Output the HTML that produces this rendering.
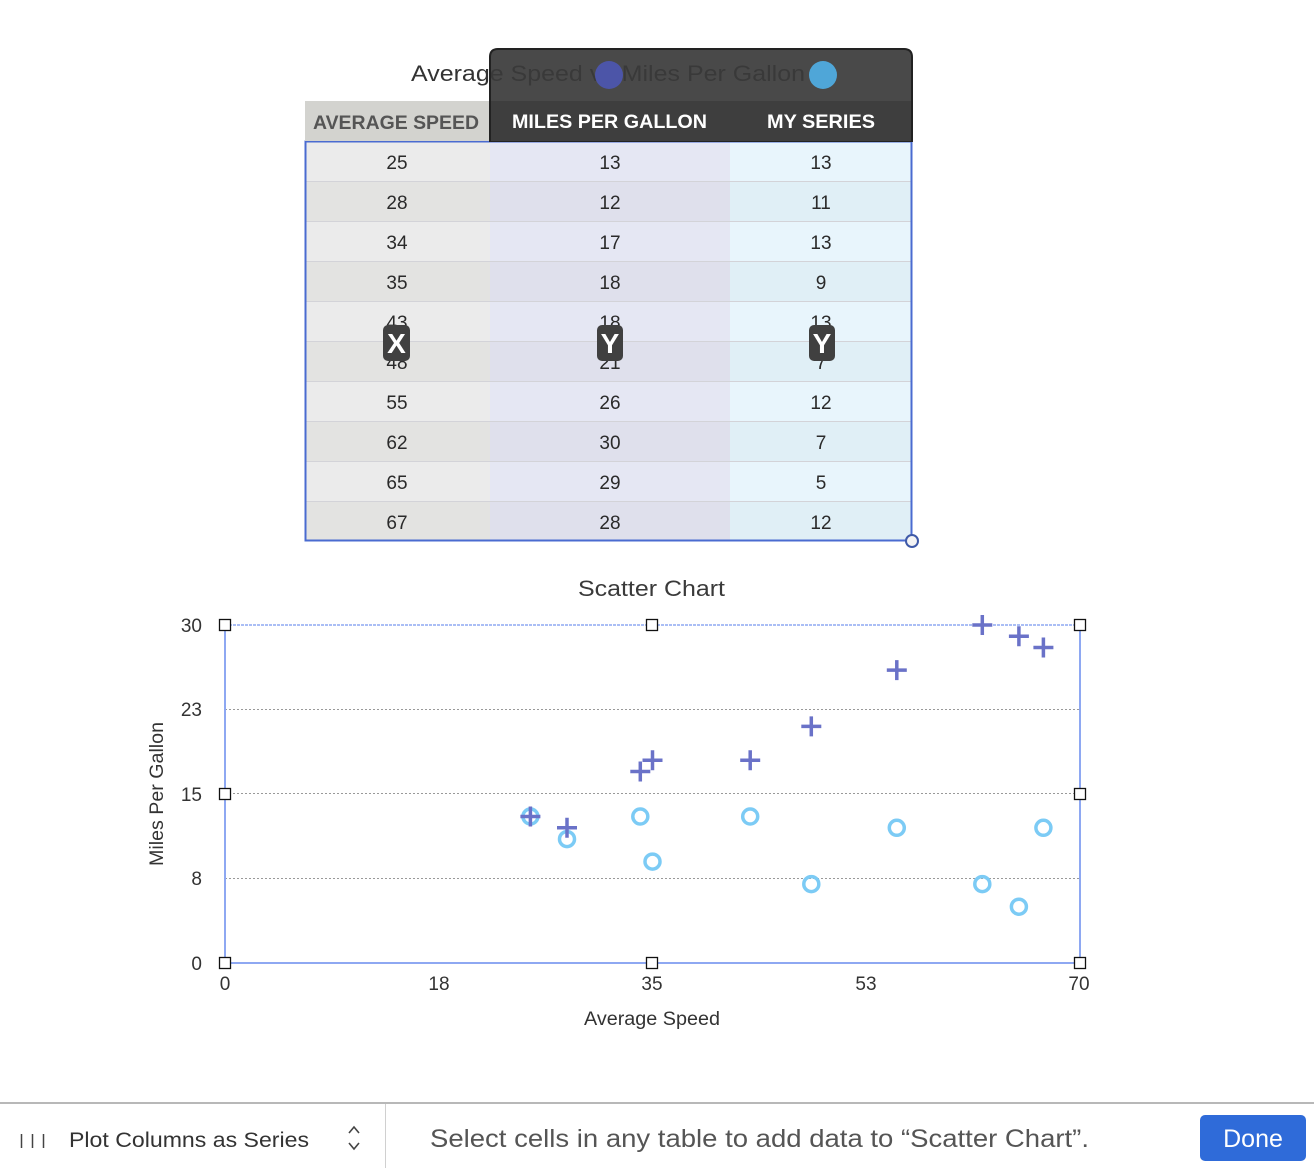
<!DOCTYPE html>
<html><head><meta charset="utf-8"><style>
html,body{margin:0;padding:0;background:#fff;width:1314px;height:1168px;overflow:hidden}
svg{display:block}
text{font-family:"Liberation Sans",sans-serif}
</style></head><body>
<svg width="1314" height="1168" viewBox="0 0 1314 1168">
<g>
<rect x="305" y="141" width="185" height="400" fill="#ebebeb"/>
<rect x="490" y="141" width="240" height="400" fill="#e5e7f3"/>
<rect x="730" y="141" width="182" height="400" fill="#e8f5fc"/>
<rect x="305" y="181" width="185" height="40" fill="#e3e3e1"/><rect x="490" y="181" width="240" height="40" fill="#dfe0ec"/><rect x="730" y="181" width="182" height="40" fill="#e0eff6"/>
<rect x="305" y="261" width="185" height="40" fill="#e3e3e1"/><rect x="490" y="261" width="240" height="40" fill="#dfe0ec"/><rect x="730" y="261" width="182" height="40" fill="#e0eff6"/>
<rect x="305" y="341" width="185" height="40" fill="#e3e3e1"/><rect x="490" y="341" width="240" height="40" fill="#dfe0ec"/><rect x="730" y="341" width="182" height="40" fill="#e0eff6"/>
<rect x="305" y="421" width="185" height="40" fill="#e3e3e1"/><rect x="490" y="421" width="240" height="40" fill="#dfe0ec"/><rect x="730" y="421" width="182" height="40" fill="#e0eff6"/>
<rect x="305" y="501" width="185" height="40" fill="#e3e3e1"/><rect x="490" y="501" width="240" height="40" fill="#dfe0ec"/><rect x="730" y="501" width="182" height="40" fill="#e0eff6"/>
<g stroke="#d3d3d8" stroke-width="1">
<line x1="305" x2="912" y1="181.5" y2="181.5"/><line x1="305" x2="912" y1="221.5" y2="221.5"/><line x1="305" x2="912" y1="261.5" y2="261.5"/><line x1="305" x2="912" y1="301.5" y2="301.5"/><line x1="305" x2="912" y1="341.5" y2="341.5"/><line x1="305" x2="912" y1="381.5" y2="381.5"/><line x1="305" x2="912" y1="421.5" y2="421.5"/><line x1="305" x2="912" y1="461.5" y2="461.5"/><line x1="305" x2="912" y1="501.5" y2="501.5"/>
</g>
<g font-size="19" fill="#2a2a2a" text-anchor="middle">
<text x="397" y="169">25</text><text x="610" y="169">13</text><text x="821" y="169">13</text>
<text x="397" y="209">28</text><text x="610" y="209">12</text><text x="821" y="209">11</text>
<text x="397" y="249">34</text><text x="610" y="249">17</text><text x="821" y="249">13</text>
<text x="397" y="289">35</text><text x="610" y="289">18</text><text x="821" y="289">9</text>
<text x="397" y="329">43</text><text x="610" y="329">18</text><text x="821" y="329">13</text>
<text x="397" y="369">48</text><text x="610" y="369">21</text><text x="821" y="369">7</text>
<text x="397" y="409">55</text><text x="610" y="409">26</text><text x="821" y="409">12</text>
<text x="397" y="449">62</text><text x="610" y="449">30</text><text x="821" y="449">7</text>
<text x="397" y="489">65</text><text x="610" y="489">29</text><text x="821" y="489">5</text>
<text x="397" y="529">67</text><text x="610" y="529">28</text><text x="821" y="529">12</text>
</g>
<rect x="305.5" y="141.5" width="606" height="399" fill="none" stroke="#4a6bd0" stroke-width="2"/>
</g>
<rect x="305" y="101" width="185" height="40" fill="#d3d3cf"/>
<text x="313" y="129" font-size="19" font-weight="bold" fill="#555" textLength="166" lengthAdjust="spacingAndGlyphs">AVERAGE SPEED</text>
<text x="411" y="81" font-size="22" fill="#333" textLength="394" lengthAdjust="spacingAndGlyphs">Average Speed vs Miles Per Gallon</text>
<path d="M490,141 V57 Q490,49 498,49 H904 Q912,49 912,57 V141 Z" fill="#3a3a3a" fill-opacity="0.92" stroke="#222" stroke-width="2"/>
<rect x="491" y="101" width="420" height="40" fill="#3e3e3e"/>
<circle cx="609" cy="75" r="14" fill="#4c55a8"/>
<circle cx="823" cy="75" r="14" fill="#4fa6d8"/>
<text x="512" y="128" font-size="19" font-weight="bold" fill="#fff" textLength="195" lengthAdjust="spacingAndGlyphs">MILES PER GALLON</text>
<text x="767" y="128" font-size="19" font-weight="bold" fill="#fff" textLength="108" lengthAdjust="spacingAndGlyphs">MY SERIES</text>
<rect x="383" y="325" width="27" height="36" rx="5" fill="#404040"/>
<rect x="597" y="325" width="26" height="36" rx="5" fill="#404040"/>
<rect x="809" y="325" width="26" height="36" rx="5" fill="#404040"/>
<g font-size="28" font-weight="bold" fill="#fff" text-anchor="middle">
<text x="396.5" y="353">X</text><text x="610" y="353">Y</text><text x="822" y="353">Y</text>
</g>
<circle cx="912" cy="541" r="6" fill="#f4f4f4" stroke="#3f5aa8" stroke-width="2"/>

<text x="578" y="596" font-size="22" fill="#3a3a3a" textLength="147" lengthAdjust="spacingAndGlyphs">Scatter Chart</text>
<g stroke="#999" stroke-width="1" stroke-dasharray="2,2">
<line x1="225" x2="1080" y1="709.5" y2="709.5"/><line x1="225" x2="1080" y1="793.5" y2="793.5"/><line x1="225" x2="1080" y1="878.5" y2="878.5"/>
</g>
<g stroke="#8ea8f2" fill="none">
<line x1="225" x2="1080" y1="625" y2="625" stroke-dasharray="3,1" stroke-width="1.5"/>
<line x1="225" x2="1080" y1="963" y2="963" stroke-width="2"/>
<line x1="225" x2="225" y1="625" y2="963" stroke-width="2"/>
<line x1="1080" x2="1080" y1="625" y2="963" stroke-width="2"/>
</g>
<g font-size="19" fill="#333" text-anchor="end">
<text x="202" y="632">30</text><text x="202" y="716">23</text><text x="202" y="801">15</text><text x="202" y="885">8</text><text x="202" y="970">0</text>
</g>
<g font-size="19" fill="#333" text-anchor="middle">
<text x="225" y="990">0</text><text x="439" y="990">18</text><text x="652" y="990">35</text><text x="866" y="990">53</text><text x="1079" y="990">70</text>
</g>
<text x="584" y="1025" font-size="19" fill="#333" textLength="136" lengthAdjust="spacingAndGlyphs">Average Speed</text>
<text transform="translate(163,866) rotate(-90)" font-size="19" fill="#333" textLength="144" lengthAdjust="spacingAndGlyphs">Miles Per Gallon</text>
<g fill="none" stroke="#7ccbf5" stroke-width="3.5">
<circle cx="530.4" cy="816.5" r="7.5"/><circle cx="567" cy="839.1" r="7.5"/><circle cx="640.3" cy="816.5" r="7.5"/><circle cx="652.5" cy="861.6" r="7.5"/><circle cx="750.2" cy="816.5" r="7.5"/><circle cx="811.3" cy="884.1" r="7.5"/><circle cx="896.8" cy="827.8" r="7.5"/><circle cx="982.3" cy="884.1" r="7.5"/><circle cx="1018.9" cy="906.7" r="7.5"/><circle cx="1043.4" cy="827.8" r="7.5"/>
</g>
<g stroke="#6a72c8" stroke-width="3.5">
<path d="M520.4,816.5h20M530.4,806.5v20"/>
<path d="M557,827.8h20M567,817.8v20"/>
<path d="M630.3,771.5h20M640.3,761.5v20"/>
<path d="M642.5,760.2h20M652.5,750.2v20"/>
<path d="M740.2,760.2h20M750.2,750.2v20"/>
<path d="M801.3,726.4h20M811.3,716.4v20"/>
<path d="M886.8,670.1h20M896.8,660.1v20"/>
<path d="M972.3,625h20M982.3,615v20"/>
<path d="M1008.9,636.3h20M1018.9,626.3v20"/>
<path d="M1033.4,647.5h20M1043.4,637.5v20"/>
</g>
<g fill="#fff" stroke="#111" stroke-width="1.3">
<rect x="219.5" y="619.5" width="11" height="11"/><rect x="646.5" y="619.5" width="11" height="11"/><rect x="1074.5" y="619.5" width="11" height="11"/>
<rect x="219.5" y="788.5" width="11" height="11"/><rect x="1074.5" y="788.5" width="11" height="11"/>
<rect x="219.5" y="957.5" width="11" height="11"/><rect x="646.5" y="957.5" width="11" height="11"/><rect x="1074.5" y="957.5" width="11" height="11"/>
</g>

<line x1="0" x2="1314" y1="1103" y2="1103" stroke="#b8b8b8" stroke-width="2"/>
<line x1="385.5" x2="385.5" y1="1104" y2="1168" stroke="#d0d0d0" stroke-width="1"/>
<g stroke="#444" stroke-width="1.5"><line x1="21.5" x2="21.5" y1="1134" y2="1148"/><line x1="32.5" x2="32.5" y1="1134" y2="1148"/><line x1="43.5" x2="43.5" y1="1134" y2="1148"/></g>
<text x="69" y="1147" font-size="21" fill="#333" textLength="240" lengthAdjust="spacingAndGlyphs">Plot Columns as Series</text>
<path d="M349,1133 l5,-6 l5,6 M349,1143 l5,6 l5,-6" fill="none" stroke="#444" stroke-width="1.6"/>
<text x="430" y="1147" font-size="25" fill="#555" textLength="659" lengthAdjust="spacingAndGlyphs">Select cells in any table to add data to “Scatter Chart”.</text>
<rect x="1200" y="1115" width="106" height="46" rx="5" fill="#2f6bd9"/>
<text x="1253" y="1147" font-size="25" fill="#fff" text-anchor="middle">Done</text>
</svg>
</body></html>
